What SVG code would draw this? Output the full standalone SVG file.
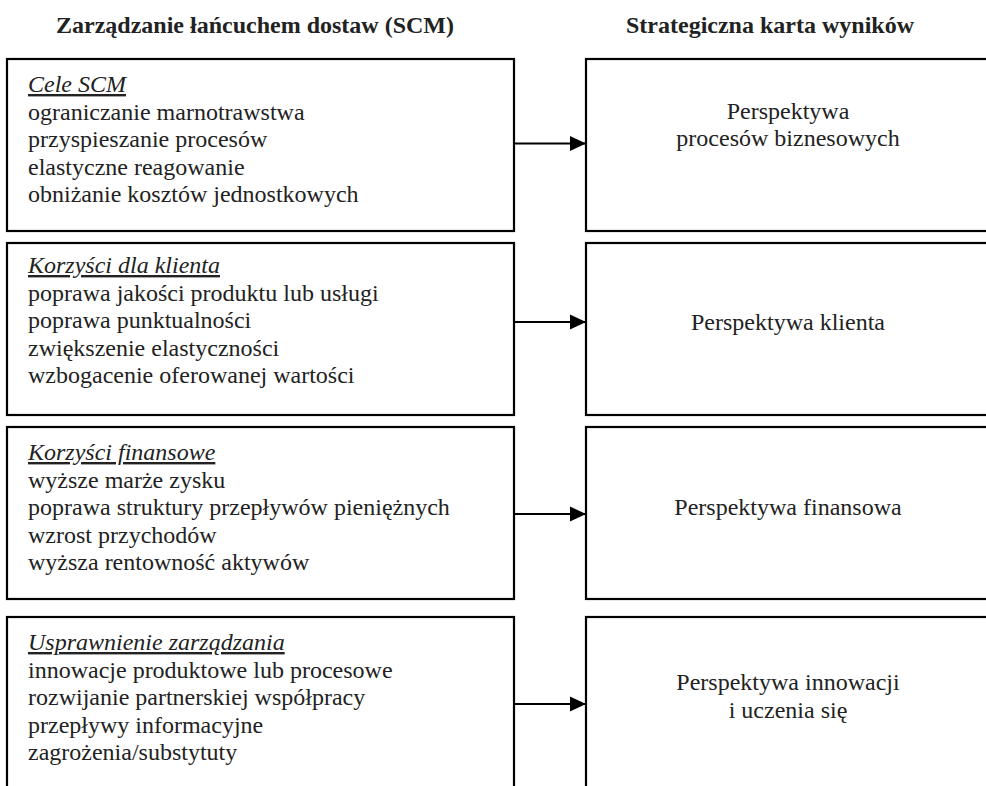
<svg xmlns="http://www.w3.org/2000/svg" width="986" height="786" viewBox="0 0 986 786">
<style>
.box{fill:#fff;stroke:#000;stroke-width:2.2}
.t{font-family:"Liberation Serif","Times New Roman",serif;font-size:24px;fill:#222}
.h{font-family:"Liberation Serif","Times New Roman",serif;font-size:24px;font-weight:bold;fill:#222;text-anchor:middle}
.hd{font-style:italic;text-decoration:underline}
.c{text-anchor:middle}
.ar{stroke:#000;stroke-width:2.2;fill:none}
</style>
<defs>
<marker id="ah" markerWidth="16" markerHeight="16" viewBox="0 0 16 16" refX="16" refY="8" orient="auto" markerUnits="userSpaceOnUse">
<polygon points="0,0.5 16,8 0,15.5" fill="#000"/>
</marker>
</defs>
<rect width="986" height="786" fill="#fff"/>
<g id="headers">
<text class="h" x="255" y="33">Zarządzanie łańcuchem dostaw (SCM)</text>
<text class="h" x="770" y="33">Strategiczna karta wyników</text>
</g>
<g id="left1">
<rect class="box" x="7" y="59" width="507" height="172"/>
<text class="t" x="28" y="92"><tspan class="hd">Cele SCM</tspan><tspan x="28" dy="27.5">ograniczanie marnotrawstwa</tspan><tspan x="28" dy="27.5">przyspieszanie procesów</tspan><tspan x="28" dy="27.5">elastyczne reagowanie</tspan><tspan x="28" dy="27.5">obniżanie kosztów jednostkowych</tspan></text>
</g>
<g id="left2">
<rect class="box" x="7" y="243" width="507" height="172"/>
<text class="t" x="28" y="273"><tspan class="hd">Korzyści dla klienta</tspan><tspan x="28" dy="27.5">poprawa jakości produktu lub usługi</tspan><tspan x="28" dy="27.5">poprawa punktualności</tspan><tspan x="28" dy="27.5">zwiększenie elastyczności</tspan><tspan x="28" dy="27.5">wzbogacenie oferowanej wartości</tspan></text>
</g>
<g id="left3">
<rect class="box" x="7" y="427" width="507" height="172"/>
<text class="t" x="28" y="460"><tspan class="hd">Korzyści finansowe</tspan><tspan x="28" dy="27.5">wyższe marże zysku</tspan><tspan x="28" dy="27.5">poprawa struktury przepływów pieniężnych</tspan><tspan x="28" dy="27.5">wzrost przychodów</tspan><tspan x="28" dy="27.5">wyższa rentowność aktywów</tspan></text>
</g>
<g id="left4">
<rect class="box" x="7" y="617" width="507" height="190"/>
<text class="t" x="28" y="650"><tspan class="hd">Usprawnienie zarządzania</tspan><tspan x="28" dy="27.5">innowacje produktowe lub procesowe</tspan><tspan x="28" dy="27.5">rozwijanie partnerskiej współpracy</tspan><tspan x="28" dy="27.5">przepływy informacyjne</tspan><tspan x="28" dy="27.5">zagrożenia/substytuty</tspan></text>
</g>
<g id="right1">
<rect class="box" x="586" y="59" width="410" height="172"/>
<text class="t c" x="788" y="119">Perspektywa<tspan x="788" dy="27">procesów biznesowych</tspan></text>
</g>
<g id="right2">
<rect class="box" x="586" y="243" width="410" height="172"/>
<text class="t c" x="788" y="330">Perspektywa klienta</text>
</g>
<g id="right3">
<rect class="box" x="586" y="427" width="410" height="172"/>
<text class="t c" x="788" y="515">Perspektywa finansowa</text>
</g>
<g id="right4">
<rect class="box" x="586" y="617" width="410" height="190"/>
<text class="t c" x="788" y="690">Perspektywa innowacji<tspan x="788" dy="28">i uczenia się</tspan></text>
</g>
<g id="connectors">
<line class="ar" x1="514" y1="143.5" x2="586" y2="143.5" marker-end="url(#ah)"/>
<line class="ar" x1="514" y1="322" x2="586" y2="322" marker-end="url(#ah)"/>
<line class="ar" x1="514" y1="514" x2="586" y2="514" marker-end="url(#ah)"/>
<line class="ar" x1="514" y1="704" x2="586" y2="704" marker-end="url(#ah)"/>
</g>
</svg>
